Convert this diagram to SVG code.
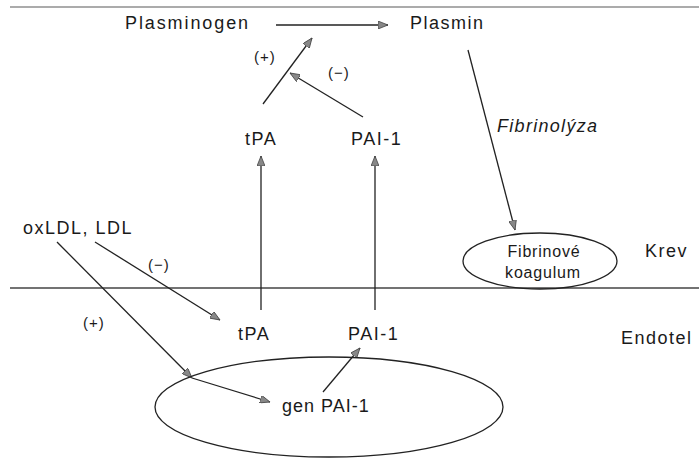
<svg xmlns="http://www.w3.org/2000/svg" width="699" height="460" viewBox="0 0 699 460">
<style>
text{font-family:"Liberation Sans",Arial,sans-serif;fill:#1a1a1a;font-size:18px;letter-spacing:1.5px}
.s{font-size:15px;letter-spacing:1px}
.k{font-size:16px;letter-spacing:0.8px}
.c{stroke:#222;stroke-width:1.3;fill:none}
.sep{stroke:#444;stroke-width:1.4}
</style>
<defs>
<marker id="a" viewBox="0 0 10 8" refX="10" refY="4" markerWidth="10" markerHeight="8" markerUnits="userSpaceOnUse" orient="auto">
<path d="M0,0 L10,4 L0,8 z" fill="#888" stroke="#444" stroke-width="0.8"/>
</marker>
</defs>
<rect width="699" height="460" fill="#fff"/>
<g id="separators">
<line class="sep" x1="10" y1="7" x2="699" y2="7" stroke-opacity="0.6"/>
<line class="sep" x1="10" y1="288" x2="699" y2="288"/>
</g>
<g id="connectors">
<line class="c" x1="276" y1="25" x2="388" y2="25" marker-end="url(#a)"/>
<line class="c" x1="263" y1="104" x2="312" y2="38" marker-end="url(#a)"/>
<line class="c" x1="363" y1="117" x2="290" y2="73" marker-end="url(#a)"/>
<line class="c" x1="261" y1="310" x2="261" y2="156" marker-end="url(#a)"/>
<line class="c" x1="375" y1="310" x2="375" y2="156" marker-end="url(#a)"/>
<line class="c" x1="468" y1="50" x2="515" y2="230" marker-end="url(#a)"/>
<line class="c" x1="95" y1="242" x2="220" y2="320" marker-end="url(#a)"/>
<line class="c" x1="57" y1="242" x2="192" y2="378" marker-end="url(#a)"/>
<line class="c" x1="192" y1="378" x2="270" y2="402" marker-end="url(#a)"/>
<line class="c" x1="323" y1="392" x2="360" y2="348" marker-end="url(#a)"/>
</g>
<g id="plasminogen"><text x="125" y="29" style="letter-spacing:1.9px">Plasminogen</text></g>
<g id="plasmin"><text x="410" y="29">Plasmin</text></g>
<g id="tpa-blood"><text x="245" y="145">tPA</text></g>
<g id="pai1-blood"><text x="351" y="145">PAI-1</text></g>
<g id="oxldl"><text x="23" y="234">oxLDL, LDL</text></g>
<g id="tpa-endo"><text x="238" y="340">tPA</text></g>
<g id="pai1-endo"><text x="348" y="340">PAI-1</text></g>
<g id="nucleus">
<ellipse cx="329" cy="407" rx="174" ry="50" class="c"/>
<text x="282" y="412" style="letter-spacing:1px">gen PAI-1</text>
</g>
<g id="koagulum">
<ellipse cx="540" cy="261" rx="77" ry="28" class="c"/>
<text class="k" x="544" y="257" text-anchor="middle">Fibrinové</text>
<text class="k" x="543" y="278" text-anchor="middle">koagulum</text>
</g>
<g id="labels">
<text class="s" x="254" y="62">(+)</text>
<text class="s" x="328" y="78">(−)</text>
<text class="s" x="148" y="270">(−)</text>
<text class="s" x="83" y="328">(+)</text>
<text x="497" y="132" font-style="italic" style="letter-spacing:1.3px">Fibrinolýza</text>
<text x="645" y="257">Krev</text>
<text x="621" y="344">Endotel</text>
</g>
</svg>
